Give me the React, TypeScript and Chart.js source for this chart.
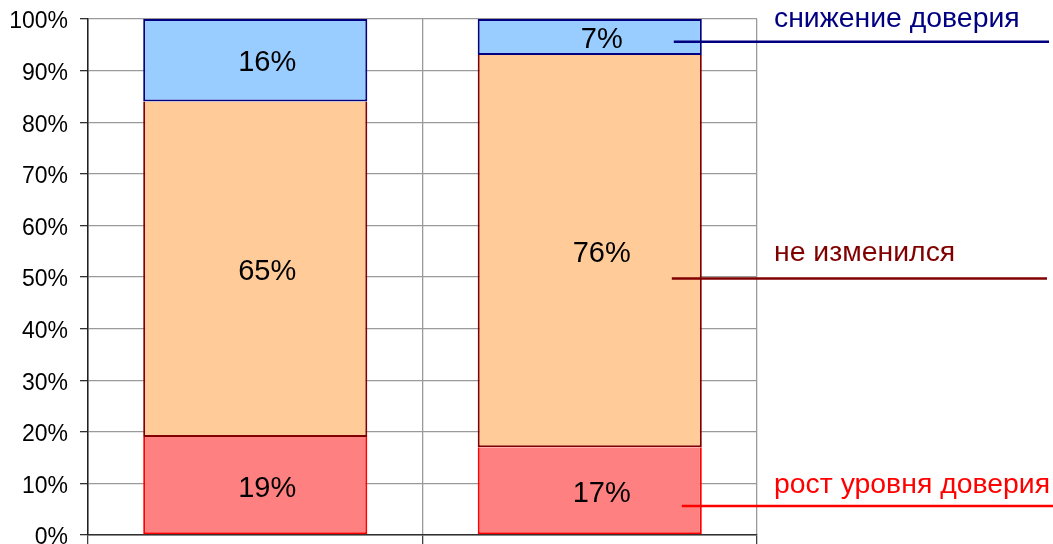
import React, { useEffect, useRef } from "react";
import { Chart, registerables } from "chart.js";

Chart.register(...registerables);

// Two survey waves, shares of answers in percent
const categories = ["", ""];
const riseValues = [19, 17];
const unchangedValues = [65, 76];
const declineValues = [16, 7];

const seriesNames = ["рост уровня доверия", "не изменился", "снижение доверия"];
const seriesFills = ["#FF8080", "#FFCC99", "#99CCFF"];
const seriesBorders = ["#FF0000", "#800000", "#000080"];
// the upper edge of a lower segment is covered by the border of the one above it
const seriesSkipped: (string | boolean)[] = ["end", "end", false];

const yTicks = [0, 10, 20, 30, 40, 50, 60, 70, 80, 90, 100];

// Callout labels on the right, with the level (in %) where each leader line runs
const calloutLabels = ["снижение доверия", "не изменился", "рост уровня доверия"];
const calloutColors = ["#000080", "#800000", "#FF0000"];
const calloutLevels = [95.6, 49.7, 5.6];

const FONT = "'Liberation Sans', Arial, sans-serif";

const valueLabels = {
  id: "valueLabels",
  afterDatasetsDraw(chart: any) {
    const ctx = chart.ctx;
    ctx.save();
    ctx.font = `29px ${FONT}`;
    ctx.fillStyle = "#000";
    ctx.textAlign = "center";
    ctx.textBaseline = "middle";
    chart.data.datasets.forEach((ds: any, di: number) => {
      const meta = chart.getDatasetMeta(di);
      meta.data.forEach((el: any, i: number) => {
        const v = ds.data[i];
        const y = (el.y + el.base) / 2;
        ctx.fillText(`${v}%`, el.x + 12, y + 3);
      });
    });
    ctx.restore();
  },
};

const callouts = {
  id: "callouts",
  afterDraw(chart: any) {
    const ctx = chart.ctx;
    const yScale = chart.scales.y;
    const area = chart.chartArea;
    const lastBar = chart.getDatasetMeta(0).data[categories.length - 1];
    const barRight = lastBar.x + lastBar.width / 2;
    const starts = [-28, -30, -20];
    const ends = [-4, -6, 0];
    const textGaps = [15, 18, 13];
    ctx.save();
    ctx.font = `28.4px ${FONT}`;
    ctx.textAlign = "left";
    ctx.textBaseline = "alphabetic";
    calloutLabels.forEach((label, i) => {
      const y = yScale.getPixelForValue(calloutLevels[i]);
      ctx.strokeStyle = calloutColors[i];
      ctx.lineWidth = 2.5;
      ctx.beginPath();
      ctx.moveTo(barRight + starts[i], y);
      ctx.lineTo(chart.width + ends[i], y);
      ctx.stroke();
      ctx.fillStyle = calloutColors[i];
      ctx.fillText(label, area.right + 17, y - textGaps[i]);
    });
    ctx.restore();
  },
};

export default function App() {
  const canvasRef = useRef<HTMLCanvasElement | null>(null);

  useEffect(() => {
    if (!canvasRef.current) return;
    const stacks = [riseValues, unchangedValues, declineValues];
    const chart = new Chart(canvasRef.current, {
      type: "bar",
      data: {
        labels: categories,
        datasets: stacks.map((values, i) => ({
          label: seriesNames[i],
          data: values,
          backgroundColor: seriesFills[i],
          borderColor: seriesBorders[i],
          borderWidth: 2,
          borderSkipped: seriesSkipped[i] as any,
          categoryPercentage: 1,
          barPercentage: 0.67,
        })),
      },
      options: {
        responsive: false,
        animation: false,
        devicePixelRatio: 1,
        layout: { padding: { top: 19, right: 296, bottom: 0, left: 0 } },
        plugins: {
          legend: { display: false },
          tooltip: { enabled: false },
          title: { display: false },
        },
        scales: {
          x: {
            stacked: true,
            grid: {
              offset: true,
              color: "#9a9a9a",
              tickColor: "#404040",
              tickLength: 9,
              lineWidth: 1.3,
            },
            border: { color: "#303030", width: 1.5 },
            ticks: { display: false },
            afterFit(scale: any) {
              scale.height = 9;
            },
          },
          y: {
            stacked: true,
            min: 0,
            max: 100,
            afterBuildTicks(scale: any) {
              scale.ticks = yTicks.map((v) => ({ value: v }));
            },
            grid: {
              color: "#9a9a9a",
              tickColor: "#303030",
              tickLength: 8,
              lineWidth: 1.3,
            },
            border: { color: "#202020", width: 1.5 },
            ticks: {
              color: "#000",
              padding: 12,
              labelOffset: 3,
              font: { family: FONT, size: 23, lineHeight: 0.7 },
              callback: (v: any) => `${v}%`,
            },
            afterFit(scale: any) {
              scale.width = 88;
              scale.paddingTop = 0;
              scale.paddingBottom = 0;
            },
          },
        },
      },
      plugins: [valueLabels, callouts],
    });
    return () => chart.destroy();
  }, []);

  return (
    <div style={{ position: "absolute", left: 0, top: 0, width: 1053, height: 544, background: "#fff" }}>
      <canvas ref={canvasRef} width={1053} height={544} />
    </div>
  );
}
